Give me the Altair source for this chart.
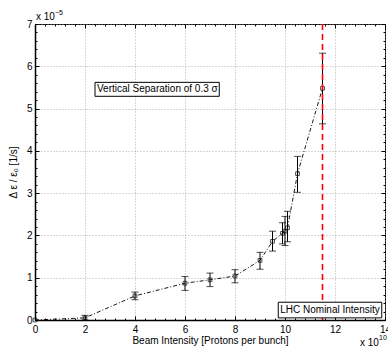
import altair as alt
import pandas as pd

# Data (x in units of 1e10 protons per bunch, y in units of 1e-5 1/s)
intensity = [0, 2, 4, 6, 7, 8, 9, 9.5, 9.9, 10.0, 10.1, 10.5, 11.5]
growth = [0.0, 0.05, 0.57, 0.87, 0.95, 1.04, 1.41, 1.86, 2.05, 2.10, 2.18, 3.46, 5.48]
err_lo = [0.0, 0.0, 0.48, 0.70, 0.79, 0.88, 1.20, 1.63, 1.80, 1.76, 1.85, 3.02, 4.64]
err_hi = [0.0, 0.11, 0.66, 1.03, 1.11, 1.19, 1.60, 2.10, 2.30, 2.45, 2.57, 3.87, 6.31]
nominal = [11.5]

x_major = [0, 2, 4, 6, 8, 10, 12, 14]
y_major = [0, 1, 2, 3, 4, 5, 6, 7]
x_minor = [round(a + 0.4 * k, 2) for a in x_major[:-1] for k in range(1, 5)]
y_minor = [round(a + 0.2 * k, 2) for a in y_major[:-1] for k in range(1, 5)]

ann_text = ["Vertical Separation of 0.3 σ", "LHC Nominal Intensity"]
ann_x = [2.4, 9.73]
ann_x2 = [7.37, 13.87]
ann_y = [5.29, 0.05]
ann_y2 = [5.62, 0.42]

df = pd.DataFrame({"x": intensity, "y": growth, "lo": err_lo, "hi": err_hi})
df_eb = df[df["hi"] > df["lo"]]
ann = pd.DataFrame({"t": ann_text, "x": ann_x, "x2": ann_x2, "y": ann_y, "y2": ann_y2,
                    "ym": [(a + b) / 2 for a, b in zip(ann_y, ann_y2)]})
nom = pd.DataFrame({"x": nominal})

FONT = "Liberation Sans"
xs = alt.Scale(domain=[0, 14], nice=False, zero=False)
ys = alt.Scale(domain=[0, 7], nice=False, zero=False)

def tick_axis(orient, values, size):
    return alt.Axis(orient=orient, values=values, ticks=True, tickSize=size, offset=-size,
                    tickColor="black", tickWidth=1, labels=False, domain=False,
                    grid=False, title=None)

# Main layer: line with labelled axes and grid
line = alt.Chart(df).mark_line(color="black", strokeWidth=0.9, strokeDash=[4, 2, 1, 2]).encode(
    x=alt.X("x:Q", scale=xs, axis=alt.Axis(
        orient="bottom", values=x_major, ticks=False, labelPadding=4, labelFontSize=10,
        labelFont=FONT, labelColor="black", grid=True, gridDash=[1, 2], gridColor="#999",
        gridWidth=0.8, domain=True, domainColor="black", domainWidth=1.5,
        title="Beam Intensity [Protons per bunch]", titleFont=FONT, titleFontSize=10,
        titleFontWeight="normal", titleColor="black", titlePadding=1, labelFlush=False)),
    y=alt.Y("y:Q", scale=ys, axis=alt.Axis(
        orient="left", values=y_major, ticks=False, labelPadding=3, labelFontSize=10,
        labelFont=FONT, labelColor="black", grid=True, gridDash=[1, 2], gridColor="#999",
        gridWidth=0.8, domain=True, domainColor="black", domainWidth=1.5,
        title="Δ ε / ε₀  [1/s]", titleFont=FONT, titleFontSize=10,
        titleFontWeight="normal", titleColor="black", titlePadding=8, labelFlush=False)),
)

err = alt.Chart(df_eb).mark_rule(color="black", strokeWidth=1).encode(
    x=alt.X("x:Q", scale=xs, axis=tick_axis("bottom", x_major, 4)),
    y=alt.Y("lo:Q", scale=ys, axis=tick_axis("left", y_major, 4)),
    y2="hi:Q",
)
cap_hi = alt.Chart(df_eb).mark_tick(color="black", orient="horizontal", size=7, thickness=1).encode(
    x=alt.X("x:Q", scale=xs, axis=tick_axis("bottom", x_minor, 2)),
    y=alt.Y("hi:Q", scale=ys, axis=tick_axis("left", y_minor, 2)),
)
cap_lo = alt.Chart(df_eb).mark_tick(color="black", orient="horizontal", size=7, thickness=1).encode(
    x=alt.X("x:Q", scale=xs, axis=tick_axis("top", x_major, 4)),
    y=alt.Y("lo:Q", scale=ys, axis=tick_axis("right", y_major, 4)),
)
pts = alt.Chart(df).mark_point(shape="square", filled=False, color="black", size=14, strokeWidth=1).encode(
    x=alt.X("x:Q", scale=xs, axis=tick_axis("top", x_minor, 2)),
    y=alt.Y("y:Q", scale=ys, axis=tick_axis("right", y_minor, 2)),
)
red = alt.Chart(nom).mark_rule(color="#ff0000", strokeWidth=1.6, strokeDash=[6, 4]).encode(
    x=alt.X("x:Q", scale=xs, axis=None),
)
boxes = alt.Chart(ann).mark_rect(fill="white", stroke="black", strokeWidth=1).encode(
    x=alt.X("x:Q", scale=xs, axis=None), x2="x2:Q",
    y=alt.Y("y:Q", scale=ys, axis=None), y2="y2:Q",
)
texts = alt.Chart(ann).mark_text(align="left", baseline="middle", font=FONT, fontSize=10,
                                 dx=2, color="black").encode(
    x=alt.X("x:Q", scale=xs, axis=None),
    y=alt.Y("ym:Q", scale=ys, axis=None),
    text="t:N",
)

exp_y1 = alt.Chart(df.head(1)).mark_text(align="left", baseline="alphabetic", font=FONT, fontSize=10,
                                          color="black", text="x 10").encode(
    x=alt.value(1), y=alt.value(-4))
exp_y2 = alt.Chart(df.head(1)).mark_text(align="left", baseline="alphabetic", font=FONT, fontSize=7,
                                          color="black", text="−5").encode(
    x=alt.value(20), y=alt.value(-9))
exp_x1 = alt.Chart(df.head(1)).mark_text(align="left", baseline="alphabetic", font=FONT, fontSize=10,
                                          color="black", text="x 10").encode(
    x=alt.value(325), y=alt.value(322))
exp_x2 = alt.Chart(df.head(1)).mark_text(align="left", baseline="alphabetic", font=FONT, fontSize=7,
                                          color="black", text="10").encode(
    x=alt.value(344), y=alt.value(316))

chart = alt.layer(
    line, err, cap_hi, cap_lo, pts, red, boxes, texts, exp_y1, exp_y2, exp_x1, exp_x2
).resolve_axis(x="independent", y="independent").properties(
    width=350, height=296,
    autosize=alt.AutoSizeParams(type="none"),
    padding={"left": 35, "top": 24, "right": 3, "bottom": 27},
    background="white",
).configure_view(stroke="black", strokeWidth=1)

chart.save("out.html", embed_options={"renderer": "svg", "actions": False})
